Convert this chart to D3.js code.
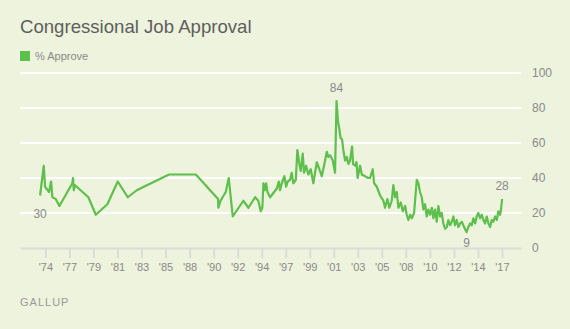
<!DOCTYPE html>
<html>
<head>
<meta charset="utf-8">
<script src="https://cdn.jsdelivr.net/npm/d3@7"></script>
<style>
  body { margin: 0; background: #edf3dc; }
  svg { display: block; font-family: "Liberation Sans", Arial, sans-serif; }
</style>
</head>
<body>
<svg id="chart"></svg>
<script>
// poll dates as decimal years
var pollDates = [
  1974.31, 1974.65, 1974.77, 1975.14, 1975.33, 1975.45, 1975.76, 1976.10, 1977.30, 1977.36,
  1977.43, 1977.52, 1978.78, 1979.47, 1980.54, 1981.50, 1982.43, 1983.26, 1986.25, 1988.73,
  1990.79, 1990.82, 1991.02, 1991.50, 1991.78, 1992.15, 1993.13, 1993.60, 1994.22, 1994.52,
  1994.74, 1994.89, 1994.99, 1995.11, 1995.24, 1995.36, 1995.61, 1995.86, 1996.23, 1996.41,
  1996.53, 1996.69, 1996.93, 1997.09, 1997.24, 1997.46, 1997.61, 1997.76, 1997.99, 1998.13,
  1998.32, 1998.45, 1998.63, 1998.75, 1998.94, 1999.15, 1999.37, 1999.61, 1999.93, 2000.17,
  2000.39, 2000.60, 2000.86, 2001.00, 2001.16, 2001.41, 2001.62, 2001.76, 2001.90, 2002.02,
  2002.13, 2002.27, 2002.39, 2002.55, 2002.71, 2002.86, 2003.01, 2003.20, 2003.29, 2003.48,
  2003.61, 2003.71, 2003.94, 2004.10, 2004.40, 2004.68, 2004.86, 2005.11, 2005.24, 2005.49,
  2005.79, 2006.10, 2006.25, 2006.47, 2006.65, 2006.87, 2007.02, 2007.18, 2007.34, 2007.49,
  2007.71, 2007.89, 2008.11, 2008.26, 2008.41, 2008.57, 2008.73, 2008.94, 2009.19, 2009.34,
  2009.49, 2009.65, 2009.80, 2009.96, 2010.11, 2010.26, 2010.42, 2010.58, 2010.73, 2010.88,
  2011.04, 2011.19, 2011.35, 2011.50, 2011.65, 2011.81, 2011.97, 2012.11, 2012.27, 2012.43,
  2012.58, 2012.73, 2012.89, 2013.04, 2013.20, 2013.36, 2013.50, 2013.80, 2013.97, 2014.12,
  2014.28, 2014.43, 2014.59, 2014.74, 2014.89, 2015.05, 2015.21, 2015.36, 2015.51, 2015.67,
  2015.82, 2015.98, 2016.13, 2016.28, 2016.44, 2016.60, 2016.74, 2016.90, 2016.99, 2017.09
];

// % approve for each poll
var approve = [
  30, 47, 35, 32, 38, 29, 28, 24, 37, 40,
  33, 36, 29, 19, 25, 38, 29, 33, 42, 42,
  28, 23, 27, 32, 40, 18, 27, 23, 29, 27,
  21, 23, 37, 33, 37, 32, 29, 31, 34, 38,
  33, 37, 41, 35, 38, 39, 43, 37, 39, 56,
  48, 44, 54, 43, 47, 42, 45, 37, 49, 45,
  41, 47, 55, 52, 53, 50, 43, 84, 72, 68,
  63, 62, 56, 50, 52, 48, 50, 58, 48, 47,
  49, 40, 47, 42, 41, 40, 40, 45, 37, 35,
  30, 27, 23, 28, 23, 27, 36, 29, 32, 23,
  26, 21, 24, 19, 16, 19, 17, 20, 39, 37,
  32, 29, 22, 25, 18, 22, 19, 23, 17, 22,
  15, 24, 18, 20, 14, 11, 12, 16, 13, 15,
  18, 13, 16, 12, 14, 15, 13, 9, 12, 14,
  13, 17, 14, 18, 20, 17, 19, 16, 14, 18,
  14, 12, 16, 15, 18, 16, 21, 19, 22, 28
];

var tickLabels = ["'74", "'77", "'79", "'81", "'83", "'85", "'88", "'90", "'92", "'94",
                  "'97", "'99", "'01", "'03", "'05", "'08", "'10", "'12", "'14", "'17"];
var yTicks = [0, 20, 40, 60, 80, 100];

// values called out on the line: index into the series, label offset
var callouts = [
  {i: 0, dy: 18},
  {i: 67, dy: -13},
  {i: 137, dy: 11},
  {i: 159, dy: -13}
];

var width = 570, height = 329;
var margin = {left: 20, right: 49, top: 73, bottom: 81};

var svg = d3.select("#chart")
  .attr("width", width)
  .attr("height", height);

var x = d3.scaleLinear()
  .domain([1972.45, 2018.84])
  .range([margin.left, width - margin.right]);

var y = d3.scaleLinear()
  .domain([0, 100])
  .range([height - margin.bottom, margin.top]);

// title + legend
svg.append("text")
  .attr("x", 20)
  .attr("y", 33)
  .attr("fill", "#5e5e5e")
  .attr("font-size", "18.6px")
  .text("Congressional Job Approval");

svg.append("rect")
  .attr("x", 20).attr("y", 51)
  .attr("width", 10).attr("height", 10)
  .attr("fill", "#5dbf4c");

svg.append("text")
  .attr("x", 35)
  .attr("y", 60)
  .attr("fill", "#8a8a8a")
  .attr("font-size", "11px")
  .text("% Approve");

// horizontal grid
svg.append("g")
  .selectAll("line")
  .data(yTicks.slice(1))
  .enter().append("line")
    .attr("x1", margin.left)
    .attr("x2", width - margin.right)
    .attr("y1", function(d) { return y(d); })
    .attr("y2", function(d) { return y(d); })
    .attr("stroke", "#ffffff")
    .attr("stroke-width", 2);

// y labels on the right
var yAxis = svg.append("g")
  .attr("transform", "translate(" + (width - margin.right) + ",0)")
  .call(d3.axisRight(y).tickValues(yTicks).tickSize(0).tickPadding(11));
yAxis.select(".domain").remove();
yAxis.selectAll("text")
  .attr("fill", "#8a8a8a")
  .attr("font-size", "12px")
  .attr("font-family", "Liberation Sans, Arial, sans-serif");

// x axis: evenly spaced ticks every ~2.2 years
var tickYears = tickLabels.map(function(d, i) { return 1974.8 + i * 2.225; });

var xAxis = svg.append("g")
  .attr("transform", "translate(0," + y(0) + ")")
  .call(d3.axisBottom(x)
    .tickValues(tickYears)
    .tickFormat(function(d, i) { return tickLabels[i]; })
    .tickSize(10)
    .tickSizeOuter(0)
    .tickPadding(5));
xAxis.select(".domain")
  .attr("stroke", "#dcdcd6")
  .attr("stroke-width", 2);
xAxis.selectAll(".tick line")
  .attr("stroke", "#dcdcd6")
  .attr("stroke-width", 2);
xAxis.selectAll("text")
  .attr("fill", "#8a8a8a")
  .attr("font-size", "11px")
  .attr("font-family", "Liberation Sans, Arial, sans-serif");

// the approval line
var line = d3.line()
  .x(function(d, i) { return x(pollDates[i]); })
  .y(function(d) { return y(d); });

svg.append("path")
  .datum(approve)
  .attr("fill", "none")
  .attr("stroke", "#5dbf4c")
  .attr("stroke-width", 2.2)
  .attr("stroke-linejoin", "round")
  .attr("d", line);

// value callouts
svg.append("g")
  .selectAll("text")
  .data(callouts)
  .enter().append("text")
    .attr("x", function(d) { return x(pollDates[d.i]); })
    .attr("y", function(d) { return y(approve[d.i]) + d.dy; })
    .attr("dy", "0.35em")
    .attr("text-anchor", "middle")
    .attr("fill", "#8a8a8a")
    .attr("font-size", "12px")
    .text(function(d) { return approve[d.i]; });

svg.append("text")
  .attr("x", 20)
  .attr("y", 306)
  .attr("fill", "#9a9a9a")
  .attr("font-size", "11px")
  .attr("letter-spacing", "1px")
  .text("GALLUP");
</script>
</body>
</html>
